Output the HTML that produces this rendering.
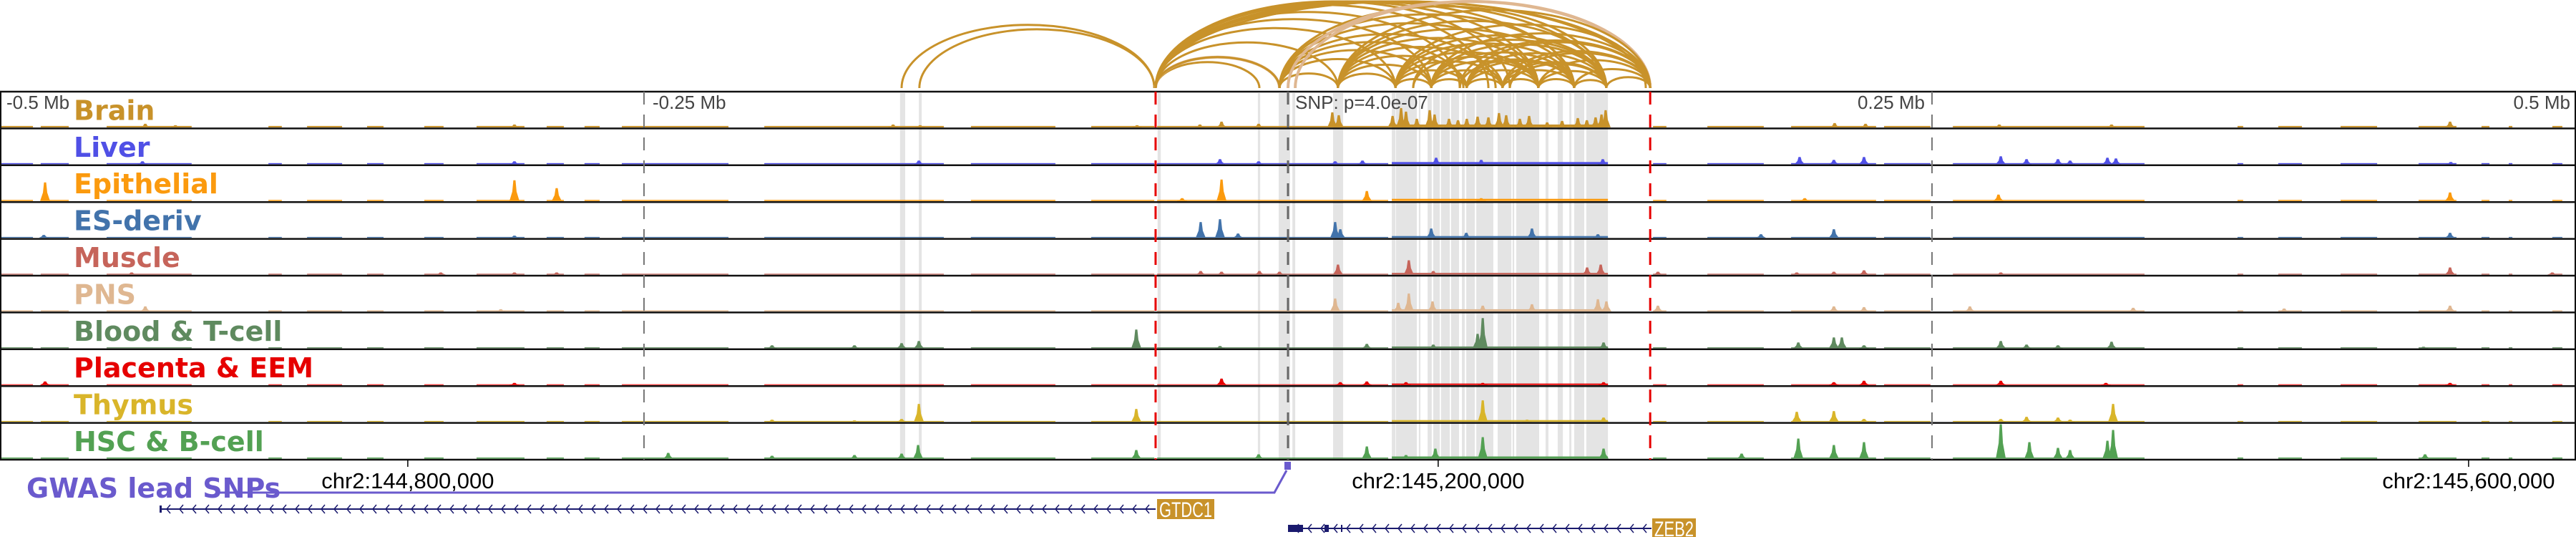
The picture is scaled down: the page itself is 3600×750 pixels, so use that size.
<!DOCTYPE html>
<html><head><meta charset="utf-8"><style>
html,body{margin:0;padding:0;background:#fff;width:3600px;height:750px;overflow:hidden}
svg{display:block}
.tl{font-family:"DejaVu Sans","Liberation Sans",sans-serif;font-weight:bold;font-size:38px}
.ax{font-family:"Liberation Sans",sans-serif;font-size:26px;fill:#444}
.ck{font-family:"Liberation Sans",sans-serif;font-size:31px;fill:#000}
</style></head><body>
<svg id="chart" width="3600" height="750" viewBox="0 0 3600 750" xmlns="http://www.w3.org/2000/svg">
<g id="bands"></g>
<g id="arcs"></g>
<g id="tracks"></g>
<g id="guides"></g>
<g id="labels"></g>
<g id="bottom"></g>
</svg>
<script>
// ---------- data (positions in kb relative to lead SNP) ----------
const trackNames = ["Brain","Liver","Epithelial","ES-deriv","Muscle","PNS","Blood & T-cell","Placenta & EEM","Thymus","HSC & B-cell"];
const trackColors = ["#c8922a","#5050e6","#fb9a0e","#4273ab","#c6645a","#dfb791","#5f8a5f","#e60000","#d9b52a","#53a153"];
const segStart = [-500,-484.2,-458.6,-395.8,-380.8,-357.5,-335.3,-315,-287.8,-273.1,-258.6,-203.3,-123.1,-76.4,-50.8,40.3,141.7,162.8,195.3,231.4,258.1,368.6,384.4,408.6,438.9,463.3,473.9,490.8];
const segEnd   = [-487.2,-473.3,-425.6,-390.6,-367.2,-351.1,-327.8,-296.4,-281.1,-267.2,-217.2,-133.6,-90.3,-51.9,38.9,124.2,146.9,184.7,228.3,249.4,332.5,370.8,393.6,422.8,453.6,466.4,475.3,494.7];
const segLevel = [1,1,1,1,1,1,1,1,1,1,1,1,1,1,1,2,1,1,1,1,1,1,1,1,1,1,1,1];
const trackBase = [2,1.5,1.5,1.2,1.2,1.5,1.2,1,1.2,1.5];
const peaksBrain = [[17.2,21],[19.7,17],[40.6,16],[43.9,27],[45.8,22],[50,12],[55,24],[56.9,18],[62.5,12],[66,10],[69.4,12],[73.6,15],[77.8,14],[81.9,20],[84.7,17],[90,12],[93.6,16],[100.6,7],[106.4,9],[112.5,13],[116,10],[119.4,14],[121.7,18],[123.3,24],[-25.8,8],[-34.2,4],[-11.4,5],[-153.3,4],[-142.8,3],[-58.6,3],[-300.3,4],[-443.6,5],[-431.9,3],[212.2,6],[224.2,5],[276.1,4],[319.7,4],[451.1,8]];
const peaksLiver = [[-26.4,7],[-11.4,4],[28.9,5],[57.5,9],[75,6],[122.2,7],[-143.3,5],[198.6,10],[211.9,6],[223.6,10],[276.7,11],[286.7,7],[298.9,7],[303.6,5],[318.1,9],[321.4,8],[451.4,3],[-300.3,4],[-444.7,4],[18.3,4]];
const peaksEpi = [[-482.5,26],[-300.3,29],[-283.9,18],[-25.8,30],[30.6,14],[275.8,9],[451.1,12],[200.6,4],[-41.1,4],[75,4]];
const peaksES = [[-483,4],[-300.3,3],[-33.9,22],[-26.4,26],[-19.4,6],[18.3,22],[20.3,12],[55.6,13],[94.7,13],[120.3,5],[69.2,7],[211.9,12],[183.6,5],[451.1,7]];
const peaksMuscle = [[-33.9,5],[-25.8,4],[-11.1,5],[-3.3,4],[19.4,14],[46.9,20],[56.4,5],[121.4,14],[116.1,10],[143.6,4],[223.6,6],[197.5,3],[211.9,4],[276.7,3],[451.1,10],[490.8,3],[-328.9,3],[-300.3,3],[-283.9,3],[-448.9,3]];
const peaksPNS = [[18.3,18],[46.9,25],[42.8,12],[56.1,14],[75.6,8],[94.7,10],[120.3,17],[123.6,14],[143.6,8],[264.7,7],[211.9,7],[223.6,6],[328.1,5],[451.1,8],[386.7,4],[-443.6,7],[-305.6,3]];
const peaksBlood = [[-58.9,26],[-150,7],[-143.3,10],[75.6,42],[73.6,20],[30.6,6],[56.4,5],[122.5,8],[-26.4,3],[198.1,8],[211.9,15],[215,15],[223.6,4],[276.7,10],[286.7,5],[298.9,4],[319.7,9],[440.8,2],[-200.3,4],[-168.3,4]];
const peaksPlacenta = [[-25.8,9],[20.3,4],[30.6,5],[45.8,4],[75.6,3],[122.5,4],[211.9,4],[223.6,6],[276.7,6],[317.5,3],[451.1,3],[-482.5,5],[-300.3,3]];
const peaksThymus = [[-143.3,25],[-150,4],[-58.9,18],[75.6,30],[122.5,6],[92.8,3],[197.5,14],[211.9,15],[223.6,4],[276.7,4],[286.7,7],[298.9,6],[320.3,25],[303.6,3],[-200.3,3],[-168.3,2]];
const peaksHSC = [[-143.6,19],[-150,7],[-58.9,12],[-11.4,6],[30.6,17],[57.2,14],[75.6,30],[122.5,14],[45.8,5],[198.1,28],[211.9,19],[223.6,23],[176.1,7],[276.7,48],[287.8,23],[298.9,15],[303.6,12],[318.1,25],[320.3,40],[441.4,6],[-240.6,8],[-200.3,4],[-168.3,5]];
const allPeaks = [peaksBrain,peaksLiver,peaksEpi,peaksES,peaksMuscle,peaksPNS,peaksBlood,peaksPlacenta,peaksThymus,peaksHSC];
const bandStart = [-150.6,-143.3,-50.6,-11.7,-3.6,1.7,17.5,40.3,41.9,50.8,54.2,56.4,59.4,63.3,67.5,69.2,73.1,81.4,87.2,88.6,100,104.7,109.2,111.1,115.8];
const bandEnd   = [-148.6,-142.2,-49.4,-10.8,0.8,2.8,21.4,41.7,50,51.4,55.8,58.9,62.8,66.4,68.6,72.5,79.7,86.7,87.8,97.5,101.1,106.7,110,115,124.2];
const arcStart = [-150,-143.1,-51.4,-51.4,-51.4,-51.4,-51.4,-51.4,-51.4,-51.4,-51.4,-51.4,-51.4,-51.4,-51.4,-51.4,-3.3,-3.3,-3.3,-3.3,-3.3,-3.3,-3.3,-3.3,0,2.8,19.4,19.4,19.4,19.4,19.4,19.4,19.4,19.4,41.7,41.7,41.7,41.7,41.7,41.7,41.7,55.6,55.6,55.6,55.6,55.6,55.6,69.4,69.4,69.4,69.4,69.4,83.3,83.3,83.3,83.3,97.2,97.2,97.2,111.1,111.1,123.6,48.6,48.6,66.7,66.7,86.1,86.1];
const arcEnd   = [-51.9,-51.9,-11.1,-3.3,-3.3,19.4,41.7,55.6,66.7,77.8,86.1,97.2,111.1,123.6,138.9,140.6,19.4,41.7,55.6,68.1,80.6,97.2,111.1,123.6,140.6,140.6,41.7,55.6,69.4,83.3,97.2,111.1,123.6,140.6,55.6,69.4,83.3,97.2,111.1,123.6,140.6,69.4,83.3,97.2,111.1,123.6,140.6,83.3,97.2,111.1,123.6,140.6,97.2,111.1,123.6,140.6,111.1,123.6,140.6,123.6,140.6,140.6,97.2,123.6,111.1,140.6,123.6,140.6];
const arcPale  = [0,0,0,1,0,0,0,0,0,0,0,0,0,0,0,0,0,0,0,0,0,0,0,0,1,1,0,0,0,0,0,0,0,0,0,0,0,0,0,0,0,0,0,0,0,0,0,0,0,0,0,0,0,0,0,0,0,0,0,0,0,0,0,0,0,0,0,0];
const axisTickKb = [-500,-250,250,500];
const axisTickLabels = ["-0.5 Mb","-0.25 Mb","0.25 Mb","0.5 Mb"];
const coordTickKb = [-341.7,58.3,458.3];
const coordTickLabels = ["chr2:144,800,000","chr2:145,200,000","chr2:145,600,000"];
const tadBoundsKb = [-51.4,140.6];
const snpKb = [0];

// ---------- scales ----------
const NS="http://www.w3.org/2000/svg";
const X0=1800, PXKB=3.6, TOP=128, TH=51.4, NT=10;
function xs(kb){return X0+kb*PXKB;}
function tTop(i){return TOP+i*TH;}
function mk(tag,attrs,parent){const e=document.createElementNS(NS,tag);for(const k in attrs)e.setAttribute(k,attrs[k]);parent.appendChild(e);return e;}
const gB=document.getElementById('bands'),gA=document.getElementById('arcs'),gT=document.getElementById('tracks'),gG=document.getElementById('guides'),gL=document.getElementById('labels'),gBot=document.getElementById('bottom');
const BOT=tTop(NT);

for(let i=0;i<bandStart.length;i++){
  const r=mk('rect',{x:xs(bandStart[i]),y:TOP+2,width:Math.max(2,xs(bandEnd[i])-xs(bandStart[i])),height:BOT-TOP-2,fill:'#e4e4e4'},gB);
  
  
}
const AY=123;
for(let i=0;i<arcStart.length;i++){
  const x1=xs(arcStart[i]),x2=xs(arcEnd[i]);const span=x2-x1;
  const h=Math.min(121,0.25*span);
  const p=mk('path',{d:`M${x1},${AY} A${span/2},${h} 0 0 1 ${x2},${AY}`,fill:'none',stroke:arcPale[i]?'#dfb791':'#c8922a','stroke-width':arcPale[i]?4:3},gA);
  
  
}
for(let t=0;t<NT;t++){
  const g=mk('g',{},gT);
  
  
  const base=tTop(t)+TH-1.5;const col=trackColors[t];
  for(let s=0;s<segStart.length;s++){
    const h=segLevel[s]*trackBase[t];
    const r=mk('rect',{x:xs(segStart[s]),y:base-h,width:xs(segEnd[s])-xs(segStart[s]),height:h,fill:col},g);
    
    
  }
  allPeaks[t].forEach(pk=>{
    const x=xs(pk[0]),h=pk[1];
    const p=mk('path',{d:`M${x-7},${base} L${x-3},${base-h*0.45} L${x-1.5},${base-h} L${x+1.5},${base-h} L${x+3},${base-h*0.45} L${x+7},${base} Z`,fill:col},g);
    
    
  });
  const tx=mk('text',{x:103,y:tTop(t)+TH-12,class:'tl',fill:col},gL);
  tx.textContent=trackNames[t];
  
  
}
for(let i=0;i<=NT;i++){
  const l=mk('line',{x1:0,x2:3600,y1:tTop(i),y2:tTop(i),stroke:'#111','stroke-width':2.5},gG);
  
  
}
[1,3599].forEach(x=>{const l=mk('line',{x1:x,x2:x,y1:TOP,y2:BOT,stroke:'#111','stroke-width':2},gG);
  
  });
[-250,250].forEach(k=>{const l=mk('line',{x1:xs(k),x2:xs(k),y1:TOP,y2:BOT,stroke:'#777','stroke-width':2,'stroke-dasharray':'18 14'},gG);
  
  });
tadBoundsKb.forEach(k=>{const l=mk('line',{x1:xs(k),x2:xs(k),y1:TOP,y2:BOT,stroke:'#e60000','stroke-width':3,'stroke-dasharray':'18 14'},gG);
  
  });
snpKb.forEach(k=>{const l=mk('line',{x1:xs(k),x2:xs(k),y1:TOP,y2:BOT,stroke:'#666','stroke-width':3,'stroke-dasharray':'18 14'},gG);
  
  });
for(let i=0;i<axisTickKb.length;i++){
  const k=axisTickKb[i];let x,anchor;
  if(k===-500){x=9;anchor='start';}else if(k<0){x=xs(k)+12;anchor='start';}else if(k===500){x=3592;anchor='end';}else{x=xs(k)-10;anchor='end';}
  const t=mk('text',{x:x,y:152,class:'ax','text-anchor':anchor},gG);
  t.textContent=axisTickLabels[i];
  
  
}
const st=mk('text',{x:1810,y:152,class:'ax'},gG);st.textContent='SNP: p=4.0e-07';


for(let i=0;i<coordTickKb.length;i++){
  const x=xs(coordTickKb[i]);
  const l=mk('line',{x1:x,x2:x,y1:BOT,y2:BOT+10,stroke:'#000','stroke-width':1.5},gBot);
  
  
  const t=mk('text',{x:x,y:682,class:'ck','text-anchor':'middle'},gBot);
  t.textContent=coordTickLabels[i];
  
  
}
const gw=mk('text',{x:37,y:695,class:'tl',fill:'#6a5acd','font-size':'29'},gBot);gw.textContent='GWAS lead SNPs';


const gl=mk('polyline',{points:`303,688 ${xs(snpKb[0])-19},688 ${xs(snpKb[0])-2},657`,fill:'none',stroke:'#6a5acd','stroke-width':3},gBot);


const gm=mk('rect',{x:xs(snpKb[0])-5,y:645,width:9,height:11,fill:'#6a5acd'},gBot);


function gene(x1,x2,y,name,lx,lw,exons){
  const g=mk('g',{},gBot);
  
  
  mk('line',{x1:x1,x2:x2,y1:y,y2:y,stroke:'#1a1a6e','stroke-width':2},g);
  let d='';for(let x=x1+10;x<x2-6;x+=18){d+=`M${x+5},${y-6} L${x},${y} L${x+5},${y+6} `;}
  mk('path',{d:d,fill:'none',stroke:'#1a1a6e','stroke-width':1.5},g);
  exons.forEach(e=>mk('rect',{x:e[0],y:y-e[2]/2,width:e[1],height:e[2],fill:'#1a1a6e'},g));
  mk('rect',{x:lx,y:y-14,width:lw,height:28,fill:'#c8922a'},g);
  const t=mk('text',{x:lx+3,y:y+11,'font-family':'Liberation Sans, sans-serif','font-size':'30',fill:'#fff',textLength:lw-6,lengthAdjust:'spacingAndGlyphs'},g);
  t.textContent=name;
}
gene(223,1615,711,'GTDC1',1617,80,[[223,3,10]]);
gene(1800,2308,738,'ZEB2',2309,61,[[1800,21,10],[1851,6,10],[1874,2,10]]);
</script>
</body></html>
